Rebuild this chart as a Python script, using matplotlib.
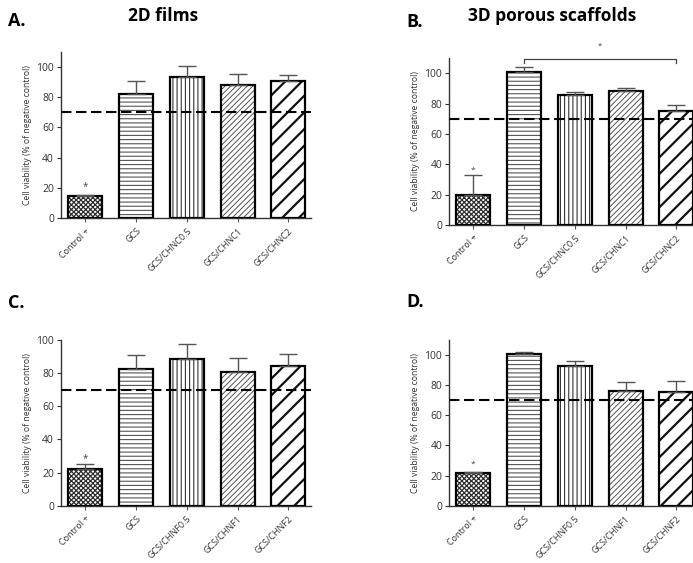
import numpy as np
import matplotlib
matplotlib.use("Agg")
import matplotlib.pyplot as plt

plt.rcParams['font.family'] = ['Open Sans', 'DejaVu Sans']

# data (means and upper SD)
labels_A = ["Control +", "GCS", "GCS/CHNC0.5", "GCS/CHNC1", "GCS/CHNC2"]
means_A = [14.5, 82, 93.5, 88, 91]
err_A = [1.0, 9, 7, 7.5, 4]

labels_B = ["Control +", "GCS", "GCS/CHNC0.5", "GCS/CHNC1", "GCS/CHNC2"]
means_B = [20, 100.5, 85.5, 88, 75]
err_B = [13, 3.5, 2, 2.5, 4]

labels_C = ["Control +", "GCS", "GCS/CHNF0.5", "GCS/CHNF1", "GCS/CHNF2"]
means_C = [22, 82.5, 88.5, 81, 84.5]
err_C = [3, 8.5, 9, 8, 7]

labels_D = ["Control +", "GCS", "GCS/CHNF0.5", "GCS/CHNF1", "GCS/CHNF2"]
means_D = [21.5, 100.5, 92.5, 76, 75.5]
err_D = [1, 1.5, 3.5, 6, 7]

threshold = 70

hatches = ['xxxxxxx', '----', '||||', '//////', '//']
hatch_cols = ['#2e2e2e', '#555555', '#333333', '#555555', '#111111']
hatch_lws = [0.9, 0.8, 0.8, 0.7, 1.6]


def panel(ax, labels, means, errs, ylim, yticks):
    x = np.arange(len(labels))
    for i in range(len(labels)):
        b = ax.bar(x[i], means[i], width=0.67, color='white', edgecolor=hatch_cols[i],
                   hatch=hatches[i], linewidth=0, zorder=2)
        for p in b:
            if hasattr(p, 'set_hatch_linewidth'):
                p.set_hatch_linewidth(hatch_lws[i])
    ax.bar(x, means, width=0.67, fill=False, edgecolor='black', linewidth=1.6, zorder=3)
    ax.errorbar(x, means, yerr=[np.zeros(len(errs)), errs], fmt='none', ecolor='#555555',
                elinewidth=1.0, capsize=6.5, capthick=1.0, zorder=4)
    ax.axhline(threshold, color='black', linestyle=(0, (5, 2.2)), linewidth=1.5, zorder=5)
    ax.set_xlim(-0.48, 4.45)
    ax.set_ylim(*ylim)
    ax.set_yticks(yticks)
    ax.set_xticks(x)
    ax.set_xticklabels(labels, rotation=45, ha='right', rotation_mode='anchor', fontsize=6.5, color='#333333')
    ax.tick_params(axis='y', labelsize=7.5, colors='#333333', length=3, width=0.8, pad=2)
    ax.tick_params(axis='x', length=3, width=0.8, colors='#555555', pad=3)
    for lab in ax.get_yticklabels():
        lab.set_color('#333333')
    for lab in ax.get_xticklabels():
        lab.set_color('#333333')
    ax.set_ylabel("Cell viability (% of negative control)", fontsize=6.2, color='#333333', labelpad=3)
    for s in ['top', 'right']:
        ax.spines[s].set_visible(False)
    for s in ['left', 'bottom']:
        ax.spines[s].set_linewidth(1.0)
        ax.spines[s].set_color('#333333')
    return x


fig = plt.figure(figsize=(6.93, 5.63), dpi=100)

axA = fig.add_axes([0.088, 0.6128, 0.361, 0.2948])
xA = panel(axA, labels_A, means_A, err_A, (0, 110), [0, 20, 40, 60, 80, 100])
axA.text(xA[0], means_A[0] + err_A[0] + 1.5, "*", ha='center', va='bottom', fontsize=7, color='#444444')

axB = fig.add_axes([0.648, 0.6004, 0.361, 0.2966])
xB = panel(axB, labels_B, means_B, err_B, (0, 110), [0, 20, 40, 60, 80, 100])
axB.text(xB[0], means_B[0] + err_B[0] + 1.0, "*", ha='center', va='bottom', fontsize=6, color='#444444')
yb = 109.3
axB.plot([xB[1], xB[1], xB[4], xB[4]], [yb - 2.5, yb, yb, yb - 2.5], color='#444444',
         linewidth=0.9, clip_on=False)
axB.text((xB[1] + xB[4]) / 2, 115.5, "*", ha='center', va='bottom', fontsize=5.5, color='#444444')

axC = fig.add_axes([0.088, 0.1018, 0.361, 0.2942])
xC = panel(axC, labels_C, means_C, err_C, (0, 100), [0, 20, 40, 60, 80, 100])
axC.text(xC[0], means_C[0] + err_C[0] + 0.3, "*", ha='center', va='bottom', fontsize=7, color='#444444')

axD = fig.add_axes([0.648, 0.1018, 0.361, 0.2942])
xD = panel(axD, labels_D, means_D, err_D, (0, 110), [0, 20, 40, 60, 80, 100])
axD.text(xD[0], means_D[0] + err_D[0] + 2.5, "*", ha='center', va='bottom', fontsize=6, color='#444444')

# panel letters and headings
fig.text(0.012, 0.963, "A.", fontsize=13, fontweight='bold', va='center')
fig.text(0.235, 0.971, "2D films", fontsize=12.5, fontweight='bold', ha='center', va='center')
fig.text(0.586, 0.961, "B.", fontsize=13, fontweight='bold', va='center')
fig.text(0.797, 0.971, "3D porous scaffolds", fontsize=12.5, fontweight='bold', ha='center', va='center')
fig.text(0.012, 0.462, "C.", fontsize=13, fontweight='bold', va='center')
fig.text(0.586, 0.464, "D.", fontsize=13, fontweight='bold', va='center')

fig.savefig("out.png", dpi=100)
